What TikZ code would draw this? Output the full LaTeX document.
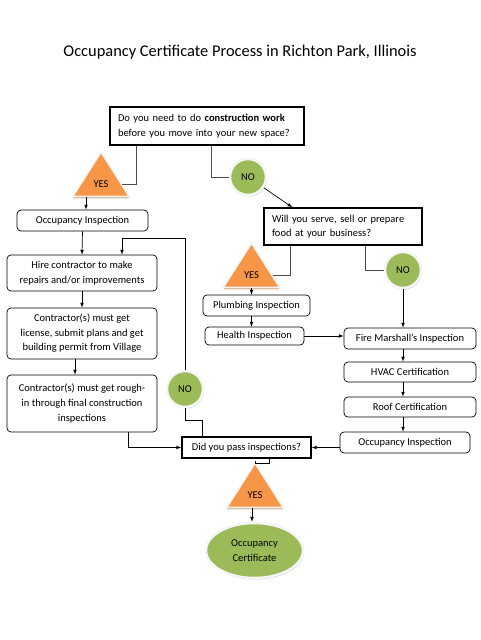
\documentclass[tikz,border=0pt]{standalone}
\usepackage{fontspec}
\setmainfont{Carlito}
\usetikzlibrary{shapes.geometric,positioning}
\definecolor{yesorange}{HTML}{F79646}
\definecolor{nogreen}{HTML}{9BBB59}
\definecolor{tanshade}{HTML}{D8B79C}
\tikzset{
  question/.style={draw, line width=1.4pt, align=left, inner xsep=8pt, inner ysep=0pt},
  stepbox/.style={draw, rounded corners=4pt, line width=0.7pt, align=center, inner sep=0pt},
  yesmark/.style={isosceles triangle, isosceles triangle stretches, shape border rotate=90,
    minimum width=56pt, minimum height=44pt, inner sep=0pt, anchor=south,
    fill=yesorange, draw=gray!10, line width=1.5pt,
    preaction={fill=tanshade, transform canvas={yshift=-2pt}}},
  nomark/.style={circle, minimum size=36pt, inner sep=0pt, align=center, fill=nogreen, draw=gray!8, line width=2.5pt,
    preaction={fill=gray!35, transform canvas={xshift=1pt, yshift=-1.5pt}}},
  link/.style={draw=black, line width=0.7pt},
  arr/.style={link, -latex},
  fork/.style={draw=gray!60!black, line width=0.7pt}
}
\begin{document}
\begin{tikzpicture}[x=1pt, y=-1pt, font=\fontsize{10.5}{14.5}\selectfont]
  \useasboundingbox (0,0) rectangle (480,640);
  \node (title) at (240,52) {\fontsize{16.4}{18}\selectfont Occupancy Certificate Process in Richton Park, Illinois};

  % questions
  \node[question, text width=178pt, minimum height=38pt] (q1) at (207,126)
    {Do you need to do \textbf{construction work}\\ before you move into your new space?};
  \node[question, text width=142pt, minimum height=37pt] (q2) at (343,226.5)
    {Will you serve, sell or prepare\\ food at your business?};
  \node[question, minimum width=129pt, minimum height=21pt, inner xsep=2pt] (pass) at (246.5,447.5)
    {Did you pass inspections?};

  % answers
  \node[yesmark] (yes1) at (101,197) {YES};
  \node[yesmark] (yes2) at (251.5,288) {YES};
  \node[yesmark] (yes3) at (255,508) {YES};
  \node[nomark] (no1) at (248,177) {NO};
  \node[nomark] (no2) at (185,389) {NO};
  \node[nomark] (no3) at (403,270) {NO};
  \node[nomark, ellipse, minimum width=97pt, minimum height=55pt] (cert) at (254.5,550.5)
    {Occupancy\\ Certificate};

  % construction path
  \node[stepbox, minimum width=131pt, minimum height=21pt] (occ1) at (82.5,220.5) {Occupancy Inspection};
  \node[stepbox, minimum width=150pt, minimum height=36pt] (hire) at (82,273)
    {Hire contractor to make\\ repairs and/or improvements};
  \node[stepbox, minimum width=150pt, minimum height=51pt] (license) at (82,333.5)
    {Contractor(s) must get\\ license, submit plans and get\\ building permit from Village};
  \node[stepbox, minimum width=150pt, minimum height=57pt] (rough) at (82,403.5)
    {Contractor(s) must get rough-\\ in through final construction\\ inspections};

  % no construction path
  \node[stepbox, minimum width=107pt, minimum height=21pt] (plumb) at (256.5,305.5) {Plumbing Inspection};
  \node[stepbox, minimum width=99pt, minimum height=18pt] (health) at (254.5,336) {Health Inspection};
  \node[stepbox, minimum width=132pt, minimum height=21pt] (fire) at (410,338.5) {Fire Marshall’s Inspection};
  \node[stepbox, minimum width=132pt, minimum height=20pt] (hvac) at (410,372) {HVAC Certification};
  \node[stepbox, minimum width=132pt, minimum height=20pt] (roof) at (410,407) {Roof Certification};
  \node[stepbox, minimum width=130pt, minimum height=21pt] (occ2) at (405,442.5) {Occupancy Inspection};

  % connectors
  \draw[fork] ([xshift=27pt]q1.south west) |- (yes1);
  \draw[fork] ([xshift=102pt]q1.south west) |- (no1);
  \draw[arr] (no1) -- ([xshift=29pt]q2.north west);
  \draw[arr] ([xshift=-15pt]yes1.south) -- ([xshift=-15pt]yes1.south |- occ1.north);
  \draw[arr] (occ1.south) -- (hire.north);
  \draw[arr] (hire.south) -- (license.north);
  \draw[arr] ([xshift=-7pt]license.south) -- ([xshift=-7pt]rough.north);
  \draw[arr] ([xshift=46pt]rough.south) |- (pass.west);
  \draw[link] ([xshift=-44.5pt]pass.north) -- ++(0,-16) -| (no2);
  \draw[arr] (no2.north) |- ([shift={(40pt,16pt)}]hire.north) -- ([xshift=40pt]hire.north);
  \draw[fork] ([xshift=27pt]q2.south west) |- (yes2);
  \draw[fork] ([xshift=102pt]q2.south west) |- (no3);
  \draw[arr] (yes2.south) -- (yes2.south |- plumb.north);
  \draw[arr] (plumb.south -| yes2.south) -- (health.north -| yes2.south);
  \draw[arr] (health.east) -- (fire.west |- health.east);
  \draw[arr] (no3) -- (fire.north -| no3);
  \draw[arr] (fire.south -| no3) -- (hvac.north -| no3);
  \draw[arr] (hvac.south -| no3) -- (roof.north -| no3);
  \draw[arr] (roof.south -| no3) -- (occ2.north -| no3);
  \draw[arr] (occ2.west |- pass.east) -- (pass.east);
  \draw[link] ([xshift=22.5pt]pass.south) -- ++(0,5) -| (yes3);
  \draw[arr] ([xshift=-3pt]yes3.south) -- ([xshift=-3pt]yes3.south |- cert.north);
\end{tikzpicture}
\end{document}
